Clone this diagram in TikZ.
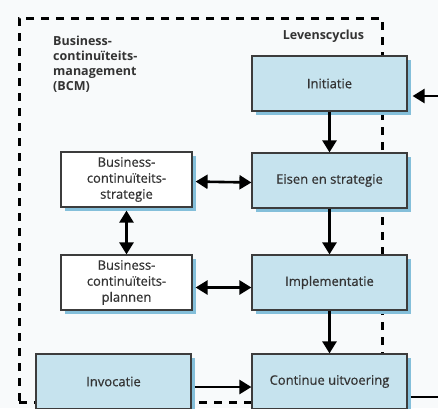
\documentclass[tikz,border=0pt]{standalone}
\usepackage{fontspec}
\setmainfont{Open Sans}[UprightFeatures={FakeBold=0.6}]
\usetikzlibrary{positioning,fit,shadows,arrows.meta}

\definecolor{achtergrond}{HTML}{F8FAFB}
\definecolor{vakblauw}{HTML}{C6E3EE}
\definecolor{schaduw}{HTML}{84BFDA}
\definecolor{randgrijs}{HTML}{3C3C3C}
\definecolor{tekstgrijs}{HTML}{333333}

\begin{document}
\begin{tikzpicture}[x=1pt,y=-1pt,node distance=99pt,on grid,
				font=\fontsize{13}{16}\selectfont, text=tekstgrijs,
				fase/.style={rectangle, draw=randgrijs, line width=1.2pt, fill=vakblauw, align=center,
					minimum width=155pt, minimum height=55pt,
					drop shadow={shadow xshift=3.5pt, shadow yshift=-3.5pt, fill=schaduw, opacity=1}},
				witbox/.style={fase, fill=white, minimum width=131pt},
				kop/.style={font=\bfseries\fontsize{12.5}{15}\selectfont, inner sep=0pt, align=left},
				kader/.style={draw=black, line width=3pt, dash pattern=on 8pt off 7pt, inner sep=0pt, outer sep=0pt},
				pijl/.style={line width=2.6pt, -{Triangle[length=12pt,width=14pt]}},
				dubbelpijl/.style={line width=2.6pt, {Triangle[length=12pt,width=14pt]}-{Triangle[length=12pt,width=14pt]}}
			]
			
			\useasboundingbox (0,0) rectangle (438,408);
			\fill[achtergrond] (0,0) rectangle (438,408);
			\clip (0,0) rectangle (438,408);
			
			\coordinate (hoek_1) at (19,18);
			\coordinate (hoek_2) at (382,402);
			\node[kader] (bcm) [fit={(hoek_1) (hoek_2)}] {};
			
			\node[kop, anchor=north west] (bcm_titel) at ([xshift=34pt, yshift=-18pt]bcm.north west) {Business-\\continuïteits-\\management\\(BCM)};
			
			\node[fase] (l_0) at (329.5,83.5) {Initiatie};
			\node[fase] (l_1) [below=of l_0, yshift=2pt] {Eisen en strategie};
			\node[fase] (l_2) [below=of l_1, yshift=-3pt] {Implementatie};
			\node[fase] (l_3) [below=of l_2] {Continue uitvoering};
			
			\node[kop] (levens) [above=47pt of l_0, xshift=-6pt] {Levenscyclus};
			
			\node[witbox] (b_0) [left=203pt of l_1, yshift=1pt] {Business-\\continuïteits-\\strategie};
			\node[witbox] (b_1) [left=203pt of l_2] {Business-\\continuïteits-\\plannen};
			\node[fase] (inv) [left=216pt of l_3] {Invocatie};
			
			\draw[pijl] (l_0) -- (l_1);
			\draw[pijl] (l_1) -- (l_2);
			\draw[pijl] (l_2) -- (l_3);
			
			\draw[dubbelpijl, shorten <=3pt] ([yshift=-2pt]b_0.east) -- ([yshift=-2pt]l_1.west);
			\draw[dubbelpijl, shorten <=3pt] (b_0) -- (b_1);
			\draw[dubbelpijl, shorten <=3pt] ([yshift=-5pt]b_1.east) -- ([yshift=-5pt]l_2.west);
			\draw[pijl, shorten <=3pt] ([yshift=-5.5pt]inv.east) -- ([yshift=-5.5pt]l_3.west);
			
			\draw[pijl, shorten <=3pt, shorten >=5pt] ([yshift=-15.5pt]l_3.east) -- ++(40,0) |- ([yshift=-12.5pt]l_0.east);
		\end{tikzpicture}
\end{document}
